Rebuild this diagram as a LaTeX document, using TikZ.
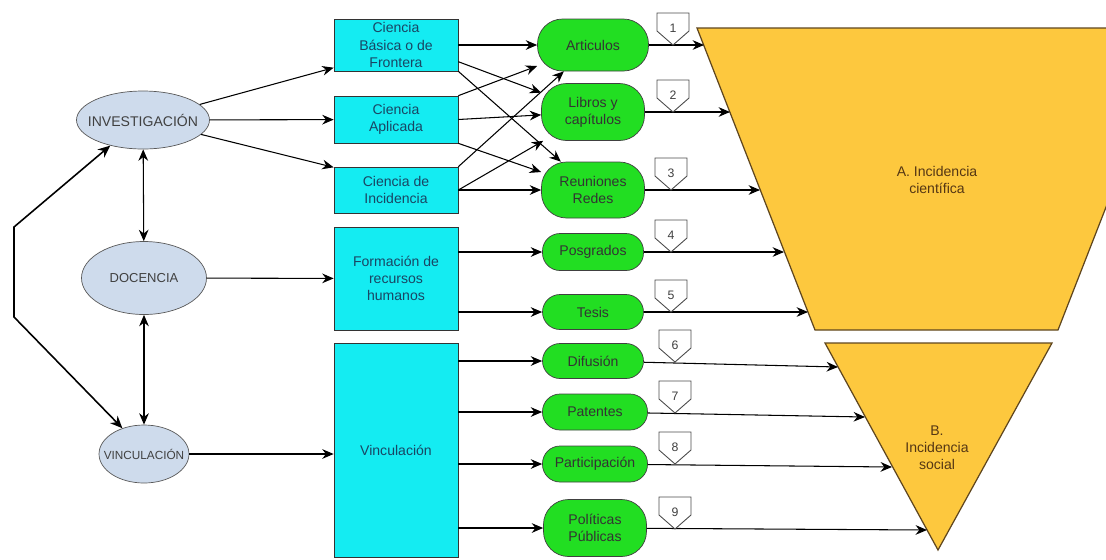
\documentclass[tikz,border=0pt]{standalone}
\usepackage{fontspec}
\setmainfont{Liberation Sans}
\usetikzlibrary{shapes.geometric,arrows.meta}

\definecolor{boxcyan}{RGB}{20,236,242}
\definecolor{boxtext}{RGB}{25,70,100}
\definecolor{nodegreen}{RGB}{34,222,34}
\definecolor{funnel}{RGB}{253,200,62}
\definecolor{funnelline}{RGB}{95,70,30}
\definecolor{funneltext}{RGB}{85,55,20}
\definecolor{ellblue}{RGB}{206,219,236}

\begin{document}
\begin{tikzpicture}[x=0.02cm,y=-0.02cm,
    font=\fontsize{8}{9.7}\selectfont,
    ell/.style={ellipse,draw=black!65,fill=ellblue,text=black!75,inner xsep=-8pt,inner ysep=0pt},
    cbox/.style={rectangle,draw=black!80,fill=boxcyan,text=boxtext,align=center,
      minimum width=2.48cm,inner sep=1pt},
    gbig/.style={rectangle,rounded corners=0.5cm,draw=black!75,fill=nodegreen,text=black!80,
      align=center,minimum width=2.06cm,minimum height=1.04cm,inner sep=1pt},
    gsmall/.style={gbig,rounded corners=0.35cm,minimum width=2.02cm,minimum height=0.72cm},
    arr/.style={-{Stealth[length=6.5pt,width=5.5pt]},line width=0.6pt},
    arr2/.style={{Stealth[length=6.5pt,width=5.5pt]}-{Stealth[length=6.5pt,width=5.5pt]},line width=0.6pt},
    looparr/.style={{Stealth[length=7pt,width=6pt]}-{Stealth[length=7pt,width=6pt]},line width=0.9pt}]
  \useasboundingbox (0,0) rectangle (1106,559);
  \clip (0,0) rectangle (1106,559);

  % the two funnels
  \draw[fill=funnel,draw=funnelline,line width=0.7pt] (697,28) -- (1176,28) -- (1058,330) -- (815,330) -- cycle;
  \draw[fill=funnel,draw=funnelline,line width=0.7pt] (825,343) -- (1052,343) -- (938,550) -- cycle;
  \node[align=center,text=funneltext] (incA) at (937,180) {A. Incidencia\\científica};
  \node[align=center,text=funneltext] (incB) at (937,448) {B.\\Incidencia\\social};

  \node[ell,minimum width=2.66cm,minimum height=1.16cm] (inv) at (143,120) {INVESTIGACIÓN};
  \node[ell,minimum width=2.5cm,minimum height=1.46cm,font=\fontsize{7.4}{9}\selectfont] (doc) at (144,278) {DOCENCIA};
  \node[ell,minimum width=1.8cm,minimum height=1.16cm,font=\fontsize{6.7}{8}\selectfont] (vin) at (144,454) {VINCULACIÓN};

  \node[cbox,minimum height=1.04cm] (bas) at (396,45) {Ciencia\\Básica o de\\Frontera};
  \node[cbox,minimum height=0.94cm] (apl) at (396,119.5) {Ciencia\\Aplicada};
  \node[cbox,minimum height=0.92cm] (inc) at (396,190) {Ciencia de\\Incidencia};
  \node[cbox,minimum height=2.06cm] (frm) at (396,278.5) {Formación de\\recursos\\humanos};
  \node[cbox,minimum height=4.28cm] (vbox) at (396,450) {Vinculación};

  \node[gbig,minimum width=2.22cm] (art) at (593,45) {Articulos};
  \node[gbig,minimum height=1.14cm] (lib) at (593,112) {Libros y\\capítulos};
  \node[gbig,minimum height=1.12cm] (reu) at (593,190) {Reuniones\\Redes};
  \node[gsmall,minimum height=0.74cm] (pos) at (593,252) {Posgrados};
  \node[gsmall,minimum height=0.7cm] (tes) at (593,312) {Tesis};
  \node[gsmall,minimum height=0.7cm] (dif) at (593,361) {Difusión};
  \node[gsmall,minimum width=2.1cm] (pat) at (595,412) {Patentes};
  \node[gsmall,minimum width=2.1cm] (par) at (595,464) {Participación};
  \node[gbig,minimum height=1.14cm] (pol) at (595,528) {Políticas\\Públicas};

  % left side
  \coordinate (loop top) at (14,227);
  \coordinate (loop bottom) at (14,317);
  \draw[looparr] (inv.218) -- (loop top) -- (loop bottom) -- (vin.130);
  \draw[arr2] (inv) -- (doc);
  \draw[arr2] (doc) -- (vin);
  \draw[arr] (inv) -- (bas.200);
  \draw[arr] (inv) -- (apl);
  \draw[arr] (inv) -- (inc.160);
  \draw[arr] (doc) -- (frm);
  \draw[arr] (vin) -- (vin -| vbox.west);

  % boxes to products
  \draw[arr] (bas) -- (art);
  \draw[arr] (bas.-15) -- (lib);
  \draw[arr] (bas.south east) -- (reu);
  \draw[arr] (apl.north east) -- (art);
  \draw[arr] (apl.east) -- (lib);
  \draw[arr] (apl.south east) -- (reu);
  \draw[arr] (inc.north east) -- (art);
  \draw[arr] (inc.east) -- (lib);
  \draw[arr] (inc) -- (reu);
  \draw[arr] (pos -| frm.east) -- (pos);
  \draw[arr] (tes -| frm.east) -- (tes);
  \foreach \g in {dif,pat,par,pol}
    \draw[arr] (\g -| vbox.east) -- (\g);

  % products to funnels
  \coordinate (a1) at (704,45);
  \coordinate (a2) at (730,112);
  \coordinate (a3) at (760,190);
  \coordinate (a4) at (784,252);
  \coordinate (a5) at (808,312);
  \coordinate (b6) at (838,367);
  \coordinate (b7) at (865,417);
  \coordinate (b8) at (892,467);
  \coordinate (b9) at (927,530);
  \foreach \g/\e in {art/a1,lib/a2,reu/a3,pos/a4,tes/a5,dif/b6,pat/b7,par/b8,pol/b9}
    \draw[arr] (\g) -- (\e);

  % numbered tags
  \foreach \n/\x/\y in {1/673/45,2/673/112,3/671/190,4/671/252,5/671/312,6/675/362,7/675/413,8/675/464,9/675/529} {
    \draw[fill=white,draw=black!70,line width=0.5pt] (\x,\y) -- ++(16,-14) -- ++(0,-18) -- ++(-32,0) -- ++(0,18) -- cycle;
    \node[font=\fontsize{7}{8}\selectfont,text=black!75] (tag\n) at (\x,\y-17) {\n};
  }
\end{tikzpicture}
\end{document}
